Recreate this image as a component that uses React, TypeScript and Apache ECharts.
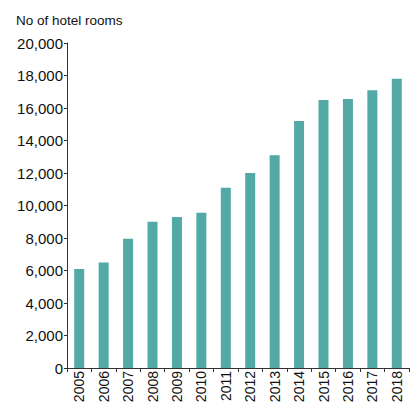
import React, { useEffect, useRef } from "react";
import * as echarts from "echarts";

const years = ["2005","2006","2007","2008","2009","2010","2011","2012","2013","2014","2015","2016","2017","2018"];
const rooms = [6100, 6500, 7950, 9000, 9300, 9550, 11100, 12000, 13100, 15200, 16500, 16550, 17100, 17800];
const title = "No of hotel rooms";

export default function App() {
  const ref = useRef<HTMLDivElement>(null);
  useEffect(() => {
    if (!ref.current) return;
    const chart = echarts.init(ref.current, undefined, { renderer: "svg" });
    const font = "'Liberation Sans', Arial, Helvetica, sans-serif";
    chart.setOption({
      animation: false,
      textStyle: { fontFamily: font },
      title: {
        text: title,
        left: 11,
        top: 8,
        textStyle: { fontFamily: font, fontSize: 13.5, fontWeight: "normal", color: "#111" },
      },
      grid: { left: 67, right: 5, top: 43, bottom: 35, containLabel: false, outerBoundsMode: "none" },
      xAxis: {
        type: "category",
        data: years,
        axisLine: { lineStyle: { color: "#333", width: 1 } },
        axisTick: { show: true, length: 4, lineStyle: { color: "#333" } },
        axisLabel: { rotate: 90, fontSize: 14, color: "#111", margin: 3, fontFamily: font },
      },
      yAxis: {
        type: "value",
        min: 0,
        max: 20000,
        interval: 2000,
        axisLine: { show: true, lineStyle: { color: "#333", width: 1 } },
        axisTick: { show: true, length: 3, lineStyle: { color: "#333" } },
        splitLine: { show: false },
        axisLabel: {
          fontSize: 15,
          color: "#111",
          margin: 4,
          fontFamily: font,
          formatter: (v: number) => v.toLocaleString("en-US"),
        },
      },
      series: [
        {
          type: "bar",
          data: rooms,
          barWidth: 10,
          itemStyle: { color: "#52a9a5" },
        },
      ],
    });
    return () => chart.dispose();
  }, []);
  return <div ref={ref} style={{ width: 414, height: 403, position: "absolute", left: 0, top: 0 }} />;
}
